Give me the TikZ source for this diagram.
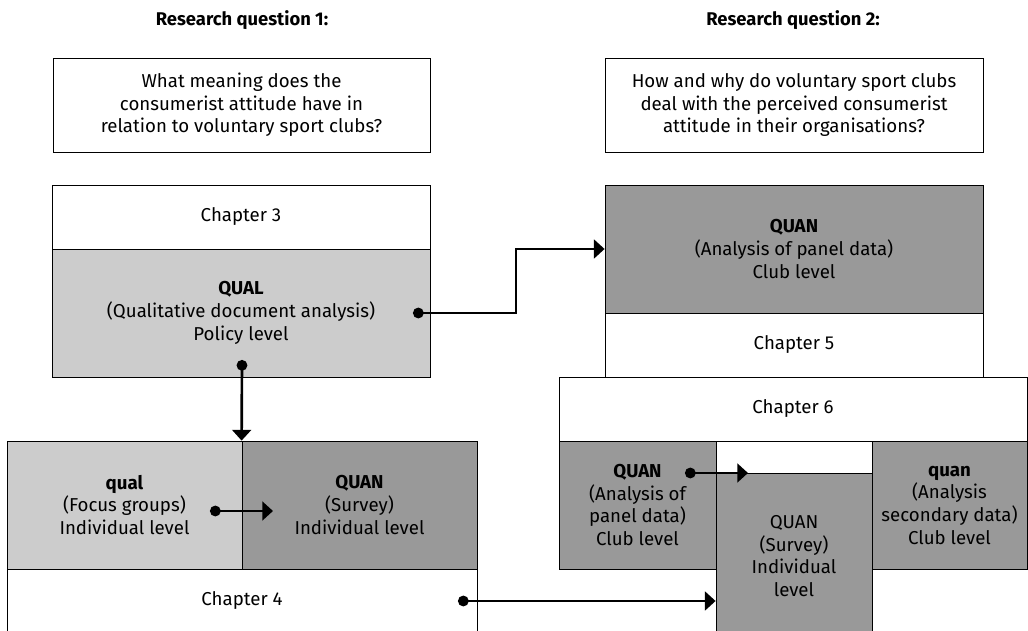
\documentclass[tikz,border=0pt]{standalone}
\usepackage{fontspec}
\setmainfont{Fira Sans}
\usepackage{xcolor}
\usetikzlibrary{arrows.meta, positioning}
\definecolor{lightgrey}{RGB}{204,204,204}
\definecolor{midgrey}{RGB}{153,153,153}

\begin{document}
\begin{tikzpicture}[
  x=0.75pt, y=-0.75pt,
  box/.style={rectangle, draw=black, line width=0.6pt, fill=white,
              align=center, inner sep=0pt, font=\fontsize{14}{17}\selectfont},
  light/.style={box, fill=lightgrey},
  dark/.style={box, fill=midgrey},
  head/.style={font=\fontsize{13.8}{16}\selectfont\bfseries},
  arrow/.style={{Circle[length=8pt]}-{Triangle[length=8pt,width=14pt]}, line width=2pt}
]
\clip (0,0) rectangle (1028,631);
\fill[white] (0,0) rectangle (1028,631);

% research questions
\node[head] (h1) at (242,20) {Research question 1:};
\node[head] (h2) at (793,20) {Research question 2:};
\node[box, minimum width=282.75pt, minimum height=70.5pt] (rq1) at (241.5,105)
  {What meaning does the\\consumerist attitude have in\\relation to voluntary sport clubs?};
\node[box, minimum width=283.5pt, minimum height=70.5pt] (rq2) at (794,105)
  {How and why do voluntary sport clubs\\deal with the perceived consumerist\\attitude in their organisations?};

% left column
\node[box, minimum width=283.5pt, minimum height=48pt] (ch3) at (241,217) {Chapter 3};
\node[light, minimum width=283.5pt, minimum height=96pt] (qual3) at (241,313)
  {\textbf{QUAL}\\(Qualitative document analysis)\\Policy level};
\node[light, minimum width=176.25pt, minimum height=96pt] (qual4) at (124.5,505)
  {\textbf{qual}\\(Focus groups)\\Individual level};
\node[dark, minimum width=176.25pt, minimum height=96pt] (quan4) at (359.5,505)
  {\textbf{QUAN}\\(Survey)\\Individual level};
\node[box, minimum width=352.5pt, minimum height=48pt] (ch4) at (242,601) {Chapter 4};

% right column
\node[dark, minimum width=283.5pt, minimum height=96pt] (quan5) at (794,249)
  {\textbf{QUAN}\\(Analysis of panel data)\\Club level};
\node[box, minimum width=283.5pt, minimum height=48pt] (ch5) at (794,345) {Chapter 5};
\node[box, minimum width=351pt, minimum height=48pt] (ch6) at (793,409) {Chapter 6};
\node[dark, minimum width=117.75pt, minimum height=96pt] (panel6) at (637.5,505)
  {\textbf{QUAN}\\(Analysis of\\panel data)\\Club level};
\node[dark, minimum width=117pt, minimum height=124.5pt] (survey6) at (794,556)
  {QUAN\\(Survey)\\Individual\\level};
\node[dark, minimum width=116.25pt, minimum height=96pt] (second6) at (949.5,505)
  {\textbf{quan}\\(Analysis\\secondary data)\\Club level};

% connectors
\coordinate (s1) at (413,313);
\coordinate (s2) at (242,360);
\coordinate (s3) at (210,511);
\coordinate (e3) at (273,511);
\coordinate (s4) at (458,601);
\coordinate (s5) at (685,473);
\coordinate (e5) at (748,473);
\draw[arrow] (s1) -- (516,313) |- (quan5.west);
\draw[arrow] (s2) -- (quan4.north west);
\draw[arrow] (s3) -- (e3);
\draw[arrow] (s4) -- (s4 -| survey6.west);
\draw[arrow] (s5) -- (e5);

\end{tikzpicture}
\end{document}
